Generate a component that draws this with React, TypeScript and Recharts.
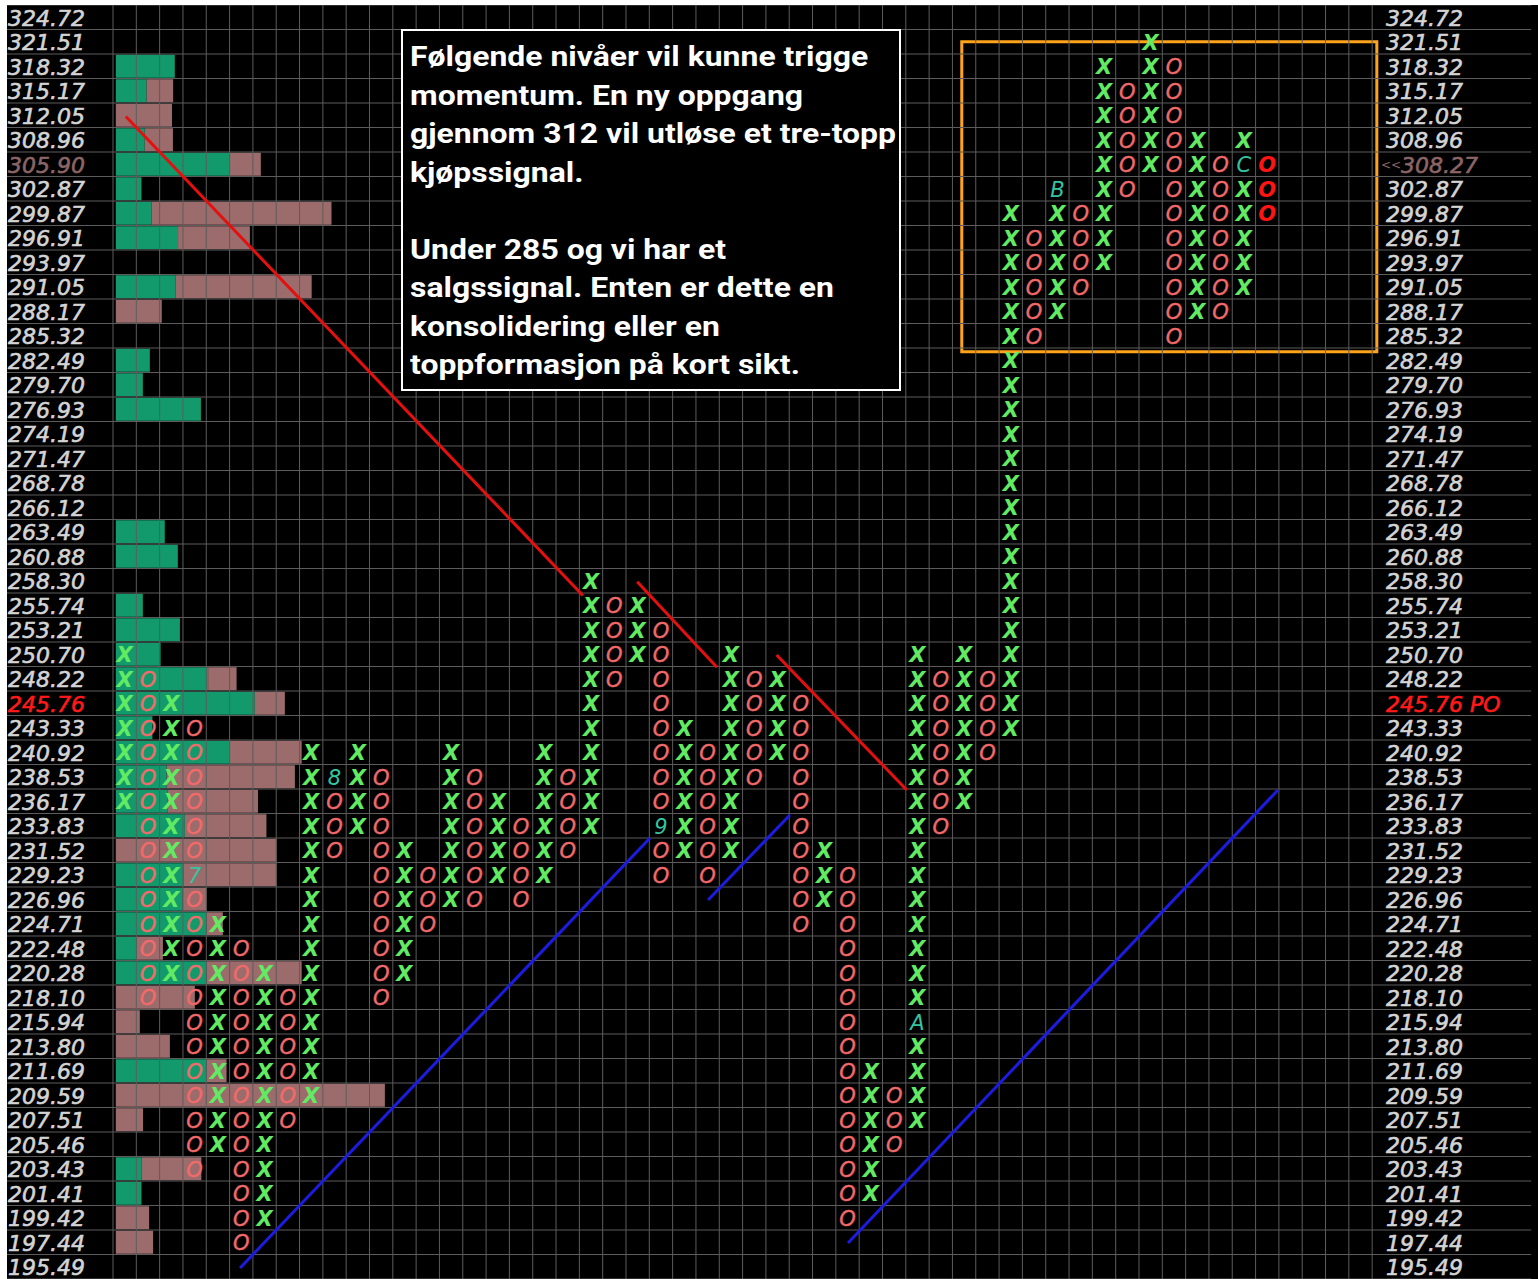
import React from 'react';
import { ComposedChart, Scatter, XAxis, YAxis, ReferenceArea, ReferenceLine } from 'recharts';

// Box levels (rows, top to bottom)
const boxPrices = [
  '324.72', '321.51', '318.32', '315.17', '312.05', '308.96', '305.90', '302.87', '299.87', '296.91',
  '293.97', '291.05', '288.17', '285.32', '282.49', '279.70', '276.93', '274.19', '271.47', '268.78',
  '266.12', '263.49', '260.88', '258.30', '255.74', '253.21', '250.70', '248.22', '245.76', '243.33',
  '240.92', '238.53', '236.17', '233.83', '231.52', '229.23', '226.96', '224.71', '222.48', '220.28',
  '218.10', '215.94', '213.80', '211.69', '209.59', '207.51', '205.46', '203.43', '201.41', '199.42',
  '197.44', '195.49',
];
const lastPriceLabel = '<<308.27';
const lastPriceBox = '305.90';
const poPriceBox = '245.76';
const poSuffix = ' PO';

// Point & figure columns: type, highest box, lowest box
const pfType = ['X','O','X','O','X','O','X','O','X','O','X','O','X','O','X','O','X','O','X','O','X','O','X','O','X','O','X','O','X','O','X','O','X','O','X','O','X','O','X','O','X','O','X','O','X','O','X','O','X','O'];
const pfHigh = ['250.70','248.22','245.76','243.33','224.71','222.48','220.28','218.10','240.92','238.53','240.92','238.53','231.52','229.23','240.92','238.53','236.17','233.83','240.92','238.53','258.30','255.74','255.74','253.21','243.33','240.92','250.70','248.22','248.22','245.76','231.52','229.23','211.69','209.59','250.70','248.22','250.70','248.22','299.87','296.91','302.87','299.87','318.32','315.17','321.51','318.32','308.96','305.90','308.96','305.90'];
const pfLow = ['236.17','218.10','220.28','203.43','205.46','197.44','199.42','207.51','209.59','231.52','233.83','218.10','220.28','224.71','226.96','226.96','229.23','226.96','229.23','231.52','233.83','248.22','250.70','229.23','231.52','229.23','231.52','238.53','240.92','224.71','226.96','199.42','201.41','205.46','207.51','233.83','236.17','240.92','243.33','285.32','288.17','291.05','293.97','302.87','305.90','285.32','288.17','288.17','291.05','299.87'];
const currentColumn = 49;

// Month markers replacing a box: column, box, text
const markerCols = [3, 9, 23, 34, 40, 48];
const markerBoxes = ['229.23', '238.53', '233.83', '215.94', '302.87', '305.90'];
const markerTexts = ['7', '8', '9', 'A', 'B', 'C'];

// Volume-at-price profile (up volume, down volume), one per box row
const volUp = [0,0,2.53,1.32,0,1.24,4.89,1.10,1.53,2.67,0,2.57,0,0,1.46,1.16,3.65,0,0,0,0,2.10,2.66,0,1.16,2.75,1.92,3.96,5.96,1.57,4.89,2.18,2.23,2.96,0,2.92,2.87,3.89,0.90,3.89,0,0,0,3.89,0,0,0,1.10,1.10,0,0,0];
const volDown = [0,0,0,1.14,2.41,1.21,1.33,0,7.72,3.08,0,5.83,1.97,0,0,0,0,0,0,0,0,0,0,0,0,0,0,1.22,1.29,0,3.08,5.50,3.87,3.50,6.90,3.98,1.02,0.70,1.12,4.08,3.39,1.03,2.32,0.86,11.54,1.17,0,2.57,0,1.43,1.60,0];

// Trend lines [x1, y1, x2, y2] in column / box units
const redLines = [[0.55, 4.55, 20.15, 24.1], [22.48, 23.54, 25.9, 27.03], [28.46, 26.53, 34.04, 32.04]];
const blueLines = [[5.45, 51.55, 23.03, 34.0], [25.52, 36.53, 29.03, 33.06], [31.52, 50.53, 49.96, 32.04]];
// Highlight box [x1, x2, y1, y2]
const focusBox = [36.4, 54.2, 1.5, 14.15];

const NUM_COLS = 54;
const NUM_ROWS = boxPrices.length;
const X_MAX = 54.25;
const X_LEFT_EDGE = -4.85;
const X_RIGHT_EDGE = 60.82;
const VOL_START = 0.12;

const noteLines = [
  'Følgende nivåer vil kunne trigge',
  'momentum. En ny oppgang',
  'gjennom 312 vil utløse et tre-topp',
  'kjøpssignal.',
  '',
  'Under 285 og vi har et',
  'salgssignal. Enten er dette en',
  'konsolidering eller en',
  'toppformasjon på kort sikt.',
];

const rowOf = (p: string) => boxPrices.indexOf(p);

const marks: { x: number; y: number; t: string; kind: string }[] = [];
pfType.forEach((type, c) => {
  const hi = rowOf(pfHigh[c]);
  const lo = rowOf(pfLow[c]);
  for (let r = hi; r <= lo; r++) {
    const mi = markerCols.findIndex((mc, k) => mc === c && rowOf(markerBoxes[k]) === r);
    if (mi >= 0) {
      marks.push({ x: c + 0.5, y: r + 0.5, t: markerTexts[mi], kind: 'label' });
    } else {
      marks.push({ x: c + 0.5, y: r + 0.5, t: type, kind: c === currentColumn ? 'cur' : type });
    }
  }
});

const rowTicks = boxPrices.map((_, i) => i + 0.5);

const FONT = '"DejaVu Sans", Verdana, sans-serif';

const MarkShape = (props: any) => {
  const { cx, cy, payload } = props;
  if (cx == null || cy == null) return null;
  let fill = '#62ea62';
  let weight: any = 'bold';
  let size = 21;
  if (payload.kind === 'O') { fill = '#f26a6a'; weight = 'normal'; }
  if (payload.kind === 'cur') { fill = '#ff1414'; weight = 'bold'; }
  if (payload.kind === 'label') { fill = '#35c4a0'; weight = 'normal'; }
  return (
    <text
      x={cx}
      y={cy + 1}
      textAnchor="middle"
      dominantBaseline="central"
      fill={fill}
      stroke={payload.kind === 'O' ? fill : 'none'}
      strokeWidth={payload.kind === 'O' ? 0.4 : 0}
      fontFamily={FONT}
      fontStyle="italic"
      fontWeight={weight}
      fontSize={size}
    >
      {payload.t}
    </text>
  );
};

const LeftTick = (props: any) => {
  const { y, payload } = props;
  const r = Math.floor(payload.value);
  const label = boxPrices[r];
  let fill = '#d4d4d4';
  if (label === lastPriceBox) fill = '#8c6565';
  if (label === poPriceBox) fill = '#ff1a1a';
  return (
    <text x={1} y={y + 1} dominantBaseline="central" fill={fill} stroke={fill} strokeWidth={0.6}
      fontFamily={FONT} fontStyle="italic" fontSize={22}>
      {label}
    </text>
  );
};

const RightTick = (props: any) => {
  const { x, y, payload } = props;
  const r = Math.floor(payload.value);
  const label = boxPrices[r];
  if (label === lastPriceBox) {
    return (
      <text x={x + 1} y={y + 1} dominantBaseline="central" fill="#8c6565" stroke="#8c6565" strokeWidth={0.6}
        fontFamily={FONT} fontStyle="italic" fontSize={22}>
        <tspan fontSize={12} strokeWidth={0}>{lastPriceLabel.slice(0, 2)}</tspan>
        {lastPriceLabel.slice(2)}
      </text>
    );
  }
  let fill = '#d4d4d4';
  let text = label;
  if (label === poPriceBox) { fill = '#ff1a1a'; text = label + poSuffix; }
  return (
    <text x={x + 6} y={y + 1} dominantBaseline="central" fill={fill} stroke={fill} strokeWidth={0.6}
      fontFamily={FONT} fontStyle="italic" fontSize={22}>
      {text}
    </text>
  );
};

export default function App() {
  const gridColor = '#5c5c5c';
  return (
    <div style={{ position: 'relative', width: 1538, height: 1279, background: '#ffffff', overflow: 'hidden' }}>
      <style>{'body{margin:0;}'}</style>
      <div style={{ position: 'absolute', left: 7, top: 5, width: 1531, height: 1274, background: '#000000' }}>
        <ComposedChart width={1531} height={1274} margin={{ top: 0, right: 0, bottom: 0, left: 0 }}>
          <XAxis type="number" dataKey="x" domain={[0, X_MAX]} hide allowDataOverflow />
          <YAxis
            yAxisId="left"
            type="number"
            dataKey="y"
            domain={[0, NUM_ROWS]}
            reversed
            allowDataOverflow
            width={106}
            ticks={rowTicks}
            interval={0}
            tickLine={false}
            axisLine={false}
            tick={<LeftTick />}
          />
          <YAxis
            yAxisId="right"
            orientation="right"
            type="number"
            domain={[0, NUM_ROWS]}
            reversed
            allowDataOverflow
            width={160}
            ticks={rowTicks}
            interval={0}
            tickLine={false}
            tickSize={0}
            axisLine={false}
            tick={<RightTick />}
          />
          {boxPrices.map((p, r) => {
            const g = volUp[r];
            const d = volDown[r];
            const els = [] as any[];
            if (g > 0) {
              els.push(
                <ReferenceArea key={'g' + r} yAxisId="left" x1={VOL_START} x2={VOL_START + g} y1={r + 0.03} y2={r + 0.97}
                  fill="#139a6c" fillOpacity={1} stroke="none" ifOverflow="visible" />
              );
            }
            if (d > 0) {
              els.push(
                <ReferenceArea key={'d' + r} yAxisId="left" x1={VOL_START + g} x2={VOL_START + g + d} y1={r + 0.03} y2={r + 0.97}
                  fill="#9c6b6b" fillOpacity={1} stroke="none" ifOverflow="visible" />
              );
            }
            return els;
          })}
          {Array.from({ length: NUM_COLS + 1 }, (_, c) => (
            <ReferenceLine key={'vc' + c} yAxisId="left" segment={[{ x: c, y: 0 }, { x: c, y: NUM_ROWS }]}
              stroke={gridColor} strokeWidth={1} ifOverflow="visible" />
          ))}
          {Array.from({ length: NUM_ROWS + 1 }, (_, r) => (
            <ReferenceLine key={'hr' + r} yAxisId="left" segment={[{ x: X_LEFT_EDGE, y: r }, { x: X_RIGHT_EDGE, y: r }]}
              stroke={gridColor} strokeWidth={1} ifOverflow="visible" />
          ))}
          <ReferenceArea yAxisId="left" x1={focusBox[0]} x2={focusBox[1]} y1={focusBox[2]} y2={focusBox[3]}
            fill="none" fillOpacity={0} stroke="#ffa31a" strokeWidth={3} ifOverflow="visible" />
          <Scatter yAxisId="left" data={marks} shape={<MarkShape />} isAnimationActive={false} />
          {redLines.map((l, i) => (
            <ReferenceLine key={'rl' + i} yAxisId="left" segment={[{ x: l[0], y: l[1] }, { x: l[2], y: l[3] }]}
              stroke="#e41010" strokeWidth={3} ifOverflow="visible" />
          ))}
          {blueLines.map((l, i) => (
            <ReferenceLine key={'bl' + i} yAxisId="left" segment={[{ x: l[0], y: l[1] }, { x: l[2], y: l[3] }]}
              stroke="#1c1ce0" strokeWidth={3} ifOverflow="visible" />
          ))}
        </ComposedChart>
      </div>
      <div
        style={{
          position: 'absolute', left: 401, top: 29, width: 500, height: 362, boxSizing: 'border-box',
          border: '2px solid #ffffff', background: '#000000', color: '#ffffff',
          fontFamily: 'Roboto, "Noto Sans", sans-serif', fontWeight: 700, fontSize: 28,
          lineHeight: '38.5px', padding: '7px 0 0 7px', whiteSpace: 'nowrap', overflow: 'hidden',
        }}
      >
        <div style={{ transform: 'scaleX(1.14)', transformOrigin: '0 0' }}>
          {noteLines.map((l, i) => (
            <div key={i} style={{ height: 38.5 }}>{l}</div>
          ))}
        </div>
      </div>
    </div>
  );
}
